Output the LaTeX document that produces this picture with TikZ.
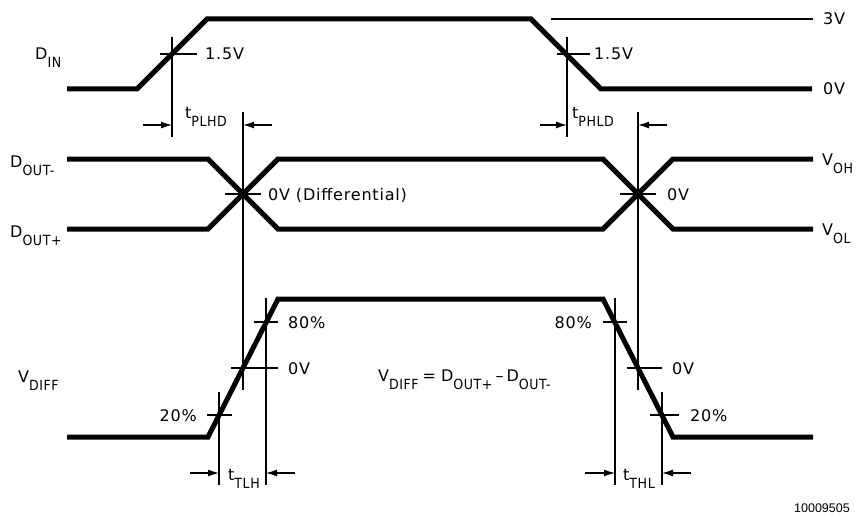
\documentclass[tikz,border=0pt]{standalone}
\usepackage{fontspec}
\setmainfont{DejaVu Sans}[LetterSpace=5]
\newfontfamily\subfont{DejaVu Sans Condensed}[LetterSpace=4]
\newfontfamily\idfont{Liberation Sans}
\usetikzlibrary{arrows.meta}
\newcommand\lsub[1]{\raisebox{-8pt}{\subfont\fontsize{14}{14}\selectfont #1}}
\begin{document}
\begin{tikzpicture}[x=1pt,y=-1pt,
  wave/.style={line width=5pt, line join=miter},
  refl/.style={line width=1.3pt},
  lbl/.style={inner sep=0pt, anchor=base west, font=\fontsize{16}{16}\selectfont},
  lble/.style={lbl, anchor=base east},
  dimarrow/.style={-{Latex[length=11pt,width=7pt]}, line width=1.3pt},
  xdot/.style={circle, fill=black, inner sep=0pt, minimum size=9pt}]
\useasboundingbox (0,0) rectangle (856,516);
% ---------- D_IN waveform
\coordinate (a0) at (67,89); \coordinate (a1) at (137,89);
\coordinate (a2) at (207,19); \coordinate (a3) at (531,19);
\coordinate (a4) at (601,89); \coordinate (a5) at (812,89);
\draw[wave] (a0) -- (a1) -- (a2) -- (a3) -- (a4) -- (a5);
\coordinate (r3a) at (551,19); \coordinate (r3b) at (813,19);
\draw[refl] (r3a) -- (r3b);
% 1.5V marks
\coordinate (v1t) at (172,37); \coordinate (v1b) at (172,137);
\coordinate (v2t) at (567,37); \coordinate (v2b) at (567,137);
\draw[refl] (v1t) -- (v1b); \draw[refl] (v2t) -- (v2b);
\coordinate (h1a) at (160,54); \coordinate (h1b) at (197,54);
\coordinate (h2a) at (557,54); \coordinate (h2b) at (590,54);
\draw[refl] (h1a) -- (h1b); \draw[refl] (h2a) -- (h2b);
% ---------- D_OUT waveforms
\coordinate (m0) at (67,159); \coordinate (m1) at (208,159);
\coordinate (m2) at (278,229); \coordinate (m3) at (603,229);
\coordinate (m4) at (673,159); \coordinate (m5) at (813,159);
\draw[wave] (m0) -- (m1) -- (m2) -- (m3) -- (m4) -- (m5);
\coordinate (p0) at (67,229); \coordinate (p1) at (208,229);
\coordinate (p2) at (278,159); \coordinate (p3) at (603,159);
\coordinate (p4) at (673,229); \coordinate (p5) at (813,229);
\draw[wave] (p0) -- (p1) -- (p2) -- (p3) -- (p4) -- (p5);
\node[xdot] (x1) at (243,194) {};
\node[xdot] (x2) at (638,194) {};
\coordinate (c1t) at (243,112); \coordinate (c1b) at (243,390);
\coordinate (c2t) at (638,112); \coordinate (c2b) at (638,390);
\draw[refl] (c1t) -- (c1b); \draw[refl] (c2t) -- (c2b);
\coordinate (k1a) at (225,194); \coordinate (k1b) at (261,194);
\coordinate (k2a) at (620,194); \coordinate (k2b) at (656,194);
\draw[refl] (k1a) -- (k1b); \draw[refl] (k2a) -- (k2b);
% ---------- V_DIFF waveform
\coordinate (d0) at (67,437); \coordinate (d1) at (208,437);
\coordinate (d2) at (278,299); \coordinate (d3) at (603,299);
\coordinate (d4) at (673,437); \coordinate (d5) at (813,437);
\draw[wave] (d0) -- (d1) -- (d2) -- (d3) -- (d4) -- (d5);
\coordinate (e1t) at (219,392); \coordinate (e1b) at (219,485);
\coordinate (e2t) at (266,298); \coordinate (e2b) at (266,485);
\coordinate (e3t) at (615,298); \coordinate (e3b) at (615,485);
\coordinate (e4t) at (662,392); \coordinate (e4b) at (662,485);
\draw[refl] (e1t) -- (e1b); \draw[refl] (e2t) -- (e2b);
\draw[refl] (e3t) -- (e3b); \draw[refl] (e4t) -- (e4b);
\coordinate (t80a) at (254,322); \coordinate (t80b) at (278,322);
\coordinate (t0a) at (231,368); \coordinate (t0b) at (278,368);
\coordinate (t20a) at (207,415); \coordinate (t20b) at (232,415);
\coordinate (u80a) at (603,322); \coordinate (u80b) at (627,322);
\coordinate (u0a) at (627,368); \coordinate (u0b) at (662,368);
\coordinate (u20a) at (650,415); \coordinate (u20b) at (679,415);
\draw[refl] (t80a) -- (t80b); \draw[refl] (t0a) -- (t0b); \draw[refl] (t20a) -- (t20b);
\draw[refl] (u80a) -- (u80b); \draw[refl] (u0a) -- (u0b); \draw[refl] (u20a) -- (u20b);
% ---------- dimension arrows
\coordinate (s1) at (143,125); \coordinate (s1e) at (172,125);
\coordinate (s2) at (272,125); \coordinate (s2e) at (243,125);
\coordinate (s3) at (540,125); \coordinate (s3e) at (567,125);
\coordinate (s4) at (667,125); \coordinate (s4e) at (638,125);
\coordinate (s5) at (190,473); \coordinate (s5e) at (219,473);
\coordinate (s6) at (295,473); \coordinate (s6e) at (266,473);
\coordinate (s7) at (585,473); \coordinate (s7e) at (615,473);
\coordinate (s8) at (691,473); \coordinate (s8e) at (662,473);
\draw[dimarrow] (s1) -- (s1e); \draw[dimarrow] (s2) -- (s2e);
\draw[dimarrow] (s3) -- (s3e); \draw[dimarrow] (s4) -- (s4e);
\draw[dimarrow] (s5) -- (s5e); \draw[dimarrow] (s6) -- (s6e);
\draw[dimarrow] (s7) -- (s7e); \draw[dimarrow] (s8) -- (s8e);
% ---------- labels
\node[lbl] (ldin) at (35,60) {D\lsub{IN}};
\node[lbl] (ldm) at (10,167) {D\lsub{OUT-}};
\node[lbl] (ldp) at (10,237) {D\lsub{OUT+}};
\node[lbl] (lvd) at (18,382) {V\lsub{DIFF}};
\node[lbl] (l15a) at (205,60) {1.5V};
\node[lbl] (l15b) at (594,60) {1.5V};
\node[lbl] (l3v) at (823,25) {3V};
\node[lbl] (l0v) at (823,95) {0V};
\node[lbl] (ltplhd) at (185,118) {t\lsub{PLHD}};
\node[lbl] (ltphld) at (572,118) {t\lsub{PHLD}};
\node[lbl] (lvoh) at (822,165) {V\lsub{OH}};
\node[lbl] (lvol) at (822,235) {V\lsub{OL}};
\node[lbl] (l0vd) at (268,200) {0V (Differential)};
\node[lbl] (l0vr) at (667,200) {0V};
\node[lbl] (l80a) at (288,328) {80\%};
\node[lbl] (l0va) at (288,374) {0V};
\node[lble] (l20a) at (197,421) {20\%};
\node[lble] (l80b) at (592,328) {80\%};
\node[lbl] (l0vb) at (672,374) {0V};
\node[lbl] (l20b) at (690,421) {20\%};
\node[lbl] (lform) at (378,381) {V\lsub{DIFF}\hspace{4pt}=\hspace{5pt}D\lsub{OUT+}\hspace{3pt}–\hspace{3pt}D\lsub{OUT-}};
\node[lbl] (lttlh) at (228,480) {t\lsub{TLH}};
\node[lbl] (ltthl) at (623,480) {t\lsub{THL}};
\node[inner sep=0pt, anchor=base east, font=\idfont\fontsize{12.5}{12.5}\selectfont] (lid) at (850,512) {10009505};
\end{tikzpicture}
\end{document}
